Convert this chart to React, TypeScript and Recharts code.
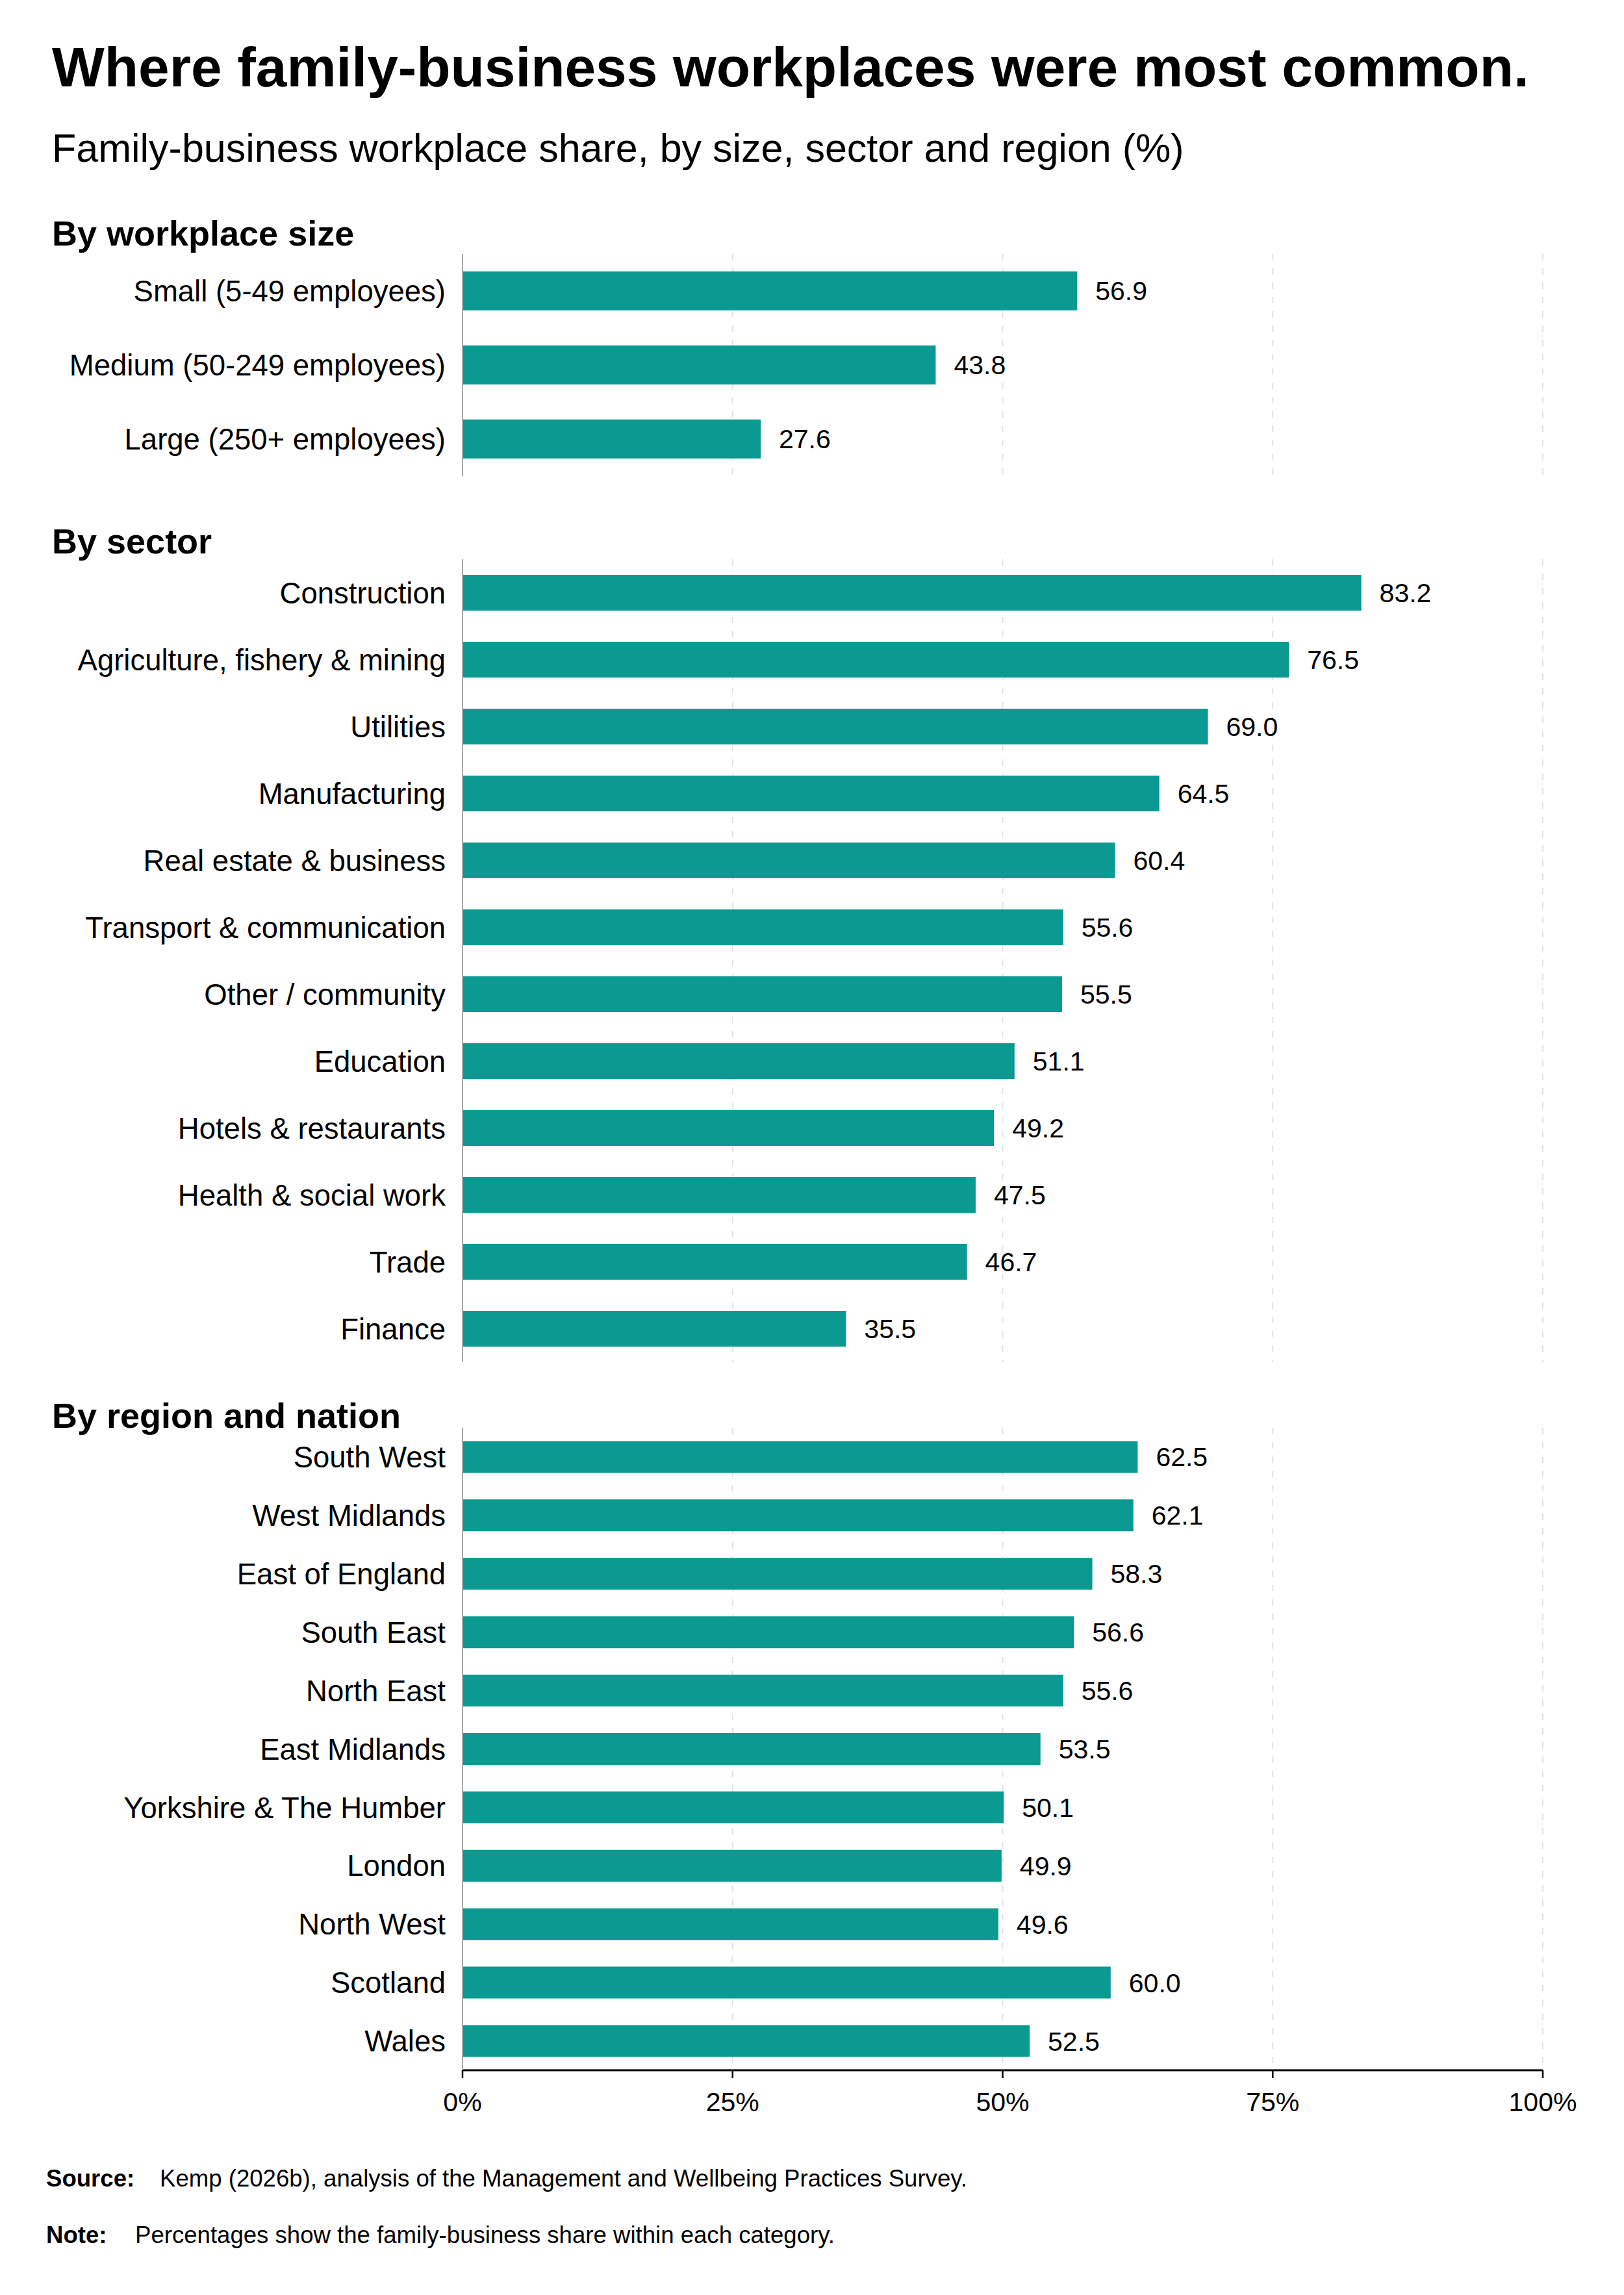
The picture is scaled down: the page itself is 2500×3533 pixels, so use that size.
import React from "react";
import { BarChart, Bar, XAxis, YAxis, CartesianGrid, LabelList } from "recharts";

const sizeCategories = ["Small (5-49 employees)", "Medium (50-249 employees)", "Large (250+ employees)"];
const sizeValues = [56.9, 43.8, 27.6];

const sectorCategories = [
  "Construction",
  "Agriculture, fishery & mining",
  "Utilities",
  "Manufacturing",
  "Real estate & business",
  "Transport & communication",
  "Other / community",
  "Education",
  "Hotels & restaurants",
  "Health & social work",
  "Trade",
  "Finance",
];
const sectorValues = [83.2, 76.5, 69.0, 64.5, 60.4, 55.6, 55.5, 51.1, 49.2, 47.5, 46.7, 35.5];

const regionCategories = [
  "South West",
  "West Midlands",
  "East of England",
  "South East",
  "North East",
  "East Midlands",
  "Yorkshire & The Humber",
  "London",
  "North West",
  "Scotland",
  "Wales",
];
const regionValues = [62.5, 62.1, 58.3, 56.6, 55.6, 53.5, 50.1, 49.9, 49.6, 60.0, 52.5];

const xTicks = [0, 25, 50, 75, 100];
const xTickLabels = ["0%", "25%", "50%", "75%", "100%"];

const FONT = "'Liberation Sans', Arial, Helvetica, sans-serif";
const TEAL = "#0A9A91";

const toRows = (cats: string[], vals: number[]) => cats.map((name, i) => ({ name, value: vals[i] }));

type PanelProps = {
  top: number;
  height: number;
  rows: { name: string; value: number }[];
  gap: string;
  showX?: boolean;
};

function Panel({ top, height, rows, gap, showX }: PanelProps) {
  const axisH = showX ? 100 : 0;
  return (
    <div style={{ position: "absolute", left: 0, top, width: 2500, height: height + axisH }}>
      <BarChart
        width={2500}
        height={height + axisH}
        data={rows}
        layout="vertical"
        margin={{ top: 0, right: 125, bottom: 0, left: 0 }}
        barCategoryGap={gap}
      >
        <CartesianGrid horizontal={false} vertical={true} stroke="#e3e3e3" strokeWidth={2} strokeDasharray="10 12" />
        <XAxis
          type="number"
          domain={[0, 100]}
          ticks={xTicks}
          hide={!showX}
          height={axisH}
          axisLine={{ stroke: "#000", strokeWidth: 3 }}
          tickLine={{ stroke: "#000", strokeWidth: 2.5 }}
          tickSize={12}
          tickMargin={22}
          tickFormatter={(v: number) => xTickLabels[xTicks.indexOf(v)]}
          tick={{ fontSize: 41, fill: "#000", fontFamily: FONT }}
        />
        <YAxis
          type="category"
          dataKey="name"
          width={712}
          interval={0}
          axisLine={{ stroke: "#a8a8a8", strokeWidth: 2 }}
          tickLine={false}
          tickSize={0}
          tickMargin={26}
          tick={{ fontSize: 45.5, fill: "#000", fontFamily: FONT }}
        />
        <Bar dataKey="value" fill={TEAL} isAnimationActive={false}>
          <LabelList
            dataKey="value"
            position="right"
            offset={28}
            formatter={(v: number) => Number(v).toFixed(1)}
            style={{ fontSize: 41, fill: "#000", fontFamily: FONT }}
          />
        </Bar>
      </BarChart>
    </div>
  );
}

const textAt = (baseline: number, left: number, size: number, weight: number | string, content: string) => (
  <div
    style={{
      position: "absolute",
      top: baseline - 0.8465 * size,
      left,
      fontSize: size,
      lineHeight: `${size}px`,
      fontWeight: weight as any,
      fontFamily: FONT,
      color: "#000",
      whiteSpace: "nowrap",
    }}
  >
    {content}
  </div>
);

export default function App() {
  return (
    <div style={{ position: "absolute", left: 0, top: 0, width: 2500, height: 3533, background: "#fff", overflow: "hidden" }}>
      {textAt(133, 80, 85.6, 700, "Where family-business workplaces were most common.")}
      {textAt(250, 80, 61, 400, "Family-business workplace share, by size, sector and region (%)")}
      {textAt(378, 80, 54, 700, "By workplace size")}
      {textAt(852, 80, 54, 700, "By sector")}
      {textAt(2198, 80, 54, 700, "By region and nation")}

      <Panel top={391} height={342} rows={toRows(sizeCategories, sizeValues)} gap="23.5%" />
      <Panel top={861} height={1236} rows={toRows(sectorCategories, sectorValues)} gap="23.3%" />
      <Panel top={2198} height={989} rows={toRows(regionCategories, regionValues)} gap="22.7%" showX />

      {textAt(3367, 71, 36.6, 700, "Source:")}
      {textAt(3367, 246, 36.6, 400, "Kemp (2026b), analysis of the Management and Wellbeing Practices Survey.")}
      {textAt(3454, 71, 36.6, 700, "Note:")}
      {textAt(3454, 208, 36.6, 400, "Percentages show the family-business share within each category.")}
    </div>
  );
}
